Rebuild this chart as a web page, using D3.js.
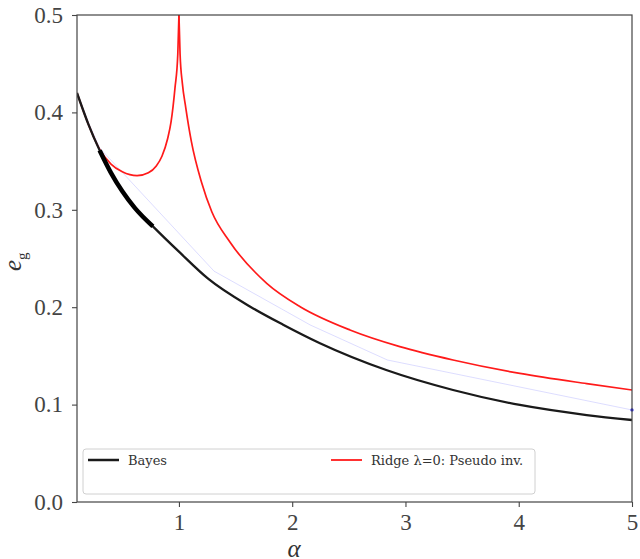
<!DOCTYPE html>
<html>
<head>
<meta charset="utf-8">
<script src="https://cdn.jsdelivr.net/npm/d3@7"></script>
<style>
  html, body { margin: 0; padding: 0; background: #fff; }
  svg { display: block; }
</style>
</head>
<body>
<svg id="chart" width="640" height="559"></svg>
<script>
// ---- data ----
const bayesAlpha = [0.1, 0.2, 0.3, 0.4, 0.5, 0.61, 0.77, 1.0, 1.26, 1.63, 1.92, 2.245, 2.83, 3.42, 4.01, 4.6, 5.0];
const bayesE     = [0.42, 0.388, 0.361, 0.338, 0.319, 0.302, 0.283, 0.257, 0.229, 0.2005, 0.182, 0.163, 0.1355, 0.115, 0.0996, 0.0893, 0.0842];

const bayesThickAlpha = [0.3, 0.4, 0.5, 0.61, 0.77];
const bayesThickE     = [0.361, 0.338, 0.319, 0.302, 0.283];

const ridgeAlpha = [0.1, 0.2, 0.3, 0.4, 0.5, 0.63, 0.73, 0.8, 0.85, 0.9, 0.93, 0.965, 0.99, 1.0,
                    1.01, 1.03, 1.06, 1.11, 1.2, 1.29, 1.45, 1.775, 2.07, 2.51, 2.95, 3.42, 4.01, 4.6, 5.0];
const ridgeE     = [0.42, 0.388, 0.362, 0.347, 0.339, 0.335, 0.338, 0.345, 0.355, 0.373, 0.39, 0.425, 0.46, 0.5,
                    0.46, 0.43, 0.405, 0.37, 0.328, 0.298, 0.267, 0.2245, 0.2005, 0.1766, 0.1595, 0.1458, 0.132, 0.1215, 0.115];

const blueAlpha = [0.11, 0.2, 0.3, 1.31, 2.16, 2.84, 5.0];
const blueE     = [0.418, 0.39, 0.3635, 0.237, 0.1817, 0.1458, 0.0945];

const xTicks = [1, 2, 3, 4, 5];
const yTicks = [0.0, 0.1, 0.2, 0.3, 0.4, 0.5];
const legendLabels = ["Bayes", "Ridge \u03bb=0: Pseudo inv."];

// ---- layout ----
const svg = d3.select("#chart");
const L = 77, R = 632, T = 15, B = 502;
const x = d3.scaleLinear().domain([0.1, 5]).range([L, R]);
const y = d3.scaleLinear().domain([0, 0.5]).range([B, T]);

svg.append("defs").append("clipPath").attr("id", "clip")
  .append("rect").attr("x", L).attr("y", T).attr("width", R - L).attr("height", B - T);

const zip = (a, b) => a.map((v, i) => [v, b[i]]);
const line = d3.line().x(d => x(d[0])).y(d => y(d[1])).curve(d3.curveMonotoneX);
const lineLin = d3.line().x(d => x(d[0])).y(d => y(d[1]));

const g = svg.append("g").attr("clip-path", "url(#clip)");

// faint blue series
g.append("path").attr("d", lineLin(zip(blueAlpha, blueE)))
  .attr("fill", "none").attr("stroke", "#3333ff").attr("stroke-width", 0.6).attr("stroke-opacity", 0.28);

// ridge (two branches around the cusp at alpha = 1)
const ridge = zip(ridgeAlpha, ridgeE);
const leftBranch = ridge.filter(d => d[0] <= 1);
const rightBranch = ridge.filter(d => d[0] >= 1);
[leftBranch, rightBranch].forEach(br => {
  g.append("path").attr("d", line(br))
    .attr("fill", "none").attr("stroke", "#ff1a1a").attr("stroke-width", 1.7);
});

// bayes
g.append("path").attr("d", line(zip(bayesAlpha, bayesE)))
  .attr("fill", "none").attr("stroke", "#1a1a1a").attr("stroke-width", 2.3);
g.append("path").attr("d", line(zip(bayesThickAlpha, bayesThickE)))
  .attr("fill", "none").attr("stroke", "#000").attr("stroke-width", 4.5).attr("stroke-linecap", "butt");

// blue end marker
svg.append("circle").attr("cx", x(blueAlpha[blueAlpha.length - 1])).attr("cy", y(blueE[blueE.length - 1]))
  .attr("r", 1.6).attr("fill", "#2222ee");

// ---- axes ----
const axisColor = "#444";
const tickFont = "'Liberation Serif', 'DejaVu Serif', serif";

const xAxis = svg.append("g").attr("transform", `translate(0,${B})`)
  .call(d3.axisBottom(x).tickValues(xTicks).tickSize(5).tickPadding(7).tickFormat(d3.format("d")));
const yAxis = svg.append("g").attr("transform", `translate(${L},0)`)
  .call(d3.axisLeft(y).tickValues(yTicks).tickSize(5).tickPadding(9).tickFormat(d3.format(".1f")));
[xAxis, yAxis].forEach(a => {
  a.select(".domain").remove();
  a.selectAll(".tick line").attr("stroke", axisColor).attr("stroke-width", 1.1);
  a.selectAll(".tick text").attr("fill", "#444").style("font-family", tickFont).style("font-size", "23px");
});

// frame
svg.append("rect").attr("x", L).attr("y", T).attr("width", R - L).attr("height", B - T)
  .attr("fill", "none").attr("stroke", axisColor).attr("stroke-width", 1.2);

// axis labels
svg.append("text").attr("x", 294).attr("y", 557).attr("text-anchor", "middle")
  .style("font-family", tickFont).style("font-style", "italic").style("font-size", "25px")
  .attr("fill", "#333").text("\u03b1");

const yl = svg.append("text").attr("transform", "translate(21,271) rotate(-90)")
  .style("font-family", tickFont).attr("fill", "#333");
yl.append("tspan").style("font-style", "italic").style("font-size", "25px").text("e");
yl.append("tspan").style("font-size", "15px").attr("dy", 6).text("g");

// ---- legend ----
const lg = svg.append("g");
lg.append("rect").attr("x", 83).attr("y", 449).attr("width", 452).attr("height", 45).attr("rx", 3)
  .attr("fill", "#fff").attr("fill-opacity", 0.8).attr("stroke", "#d0d0d0").attr("stroke-width", 1);
const legendItems = [
  { x0: 88, color: "#1a1a1a", w: 2.5, label: legendLabels[0] },
  { x0: 331, color: "#ff1a1a", w: 1.8, label: legendLabels[1] }
];
legendItems.forEach(it => {
  lg.append("line").attr("x1", it.x0).attr("x2", it.x0 + 31).attr("y1", 460).attr("y2", 460)
    .attr("stroke", it.color).attr("stroke-width", it.w);
  lg.append("text").attr("x", it.x0 + 40).attr("y", 464.5)
    .style("font-family", "'DejaVu Serif', serif").style("font-size", "13px").attr("fill", "#333")
    .text(it.label);
});
</script>
</body>
</html>
